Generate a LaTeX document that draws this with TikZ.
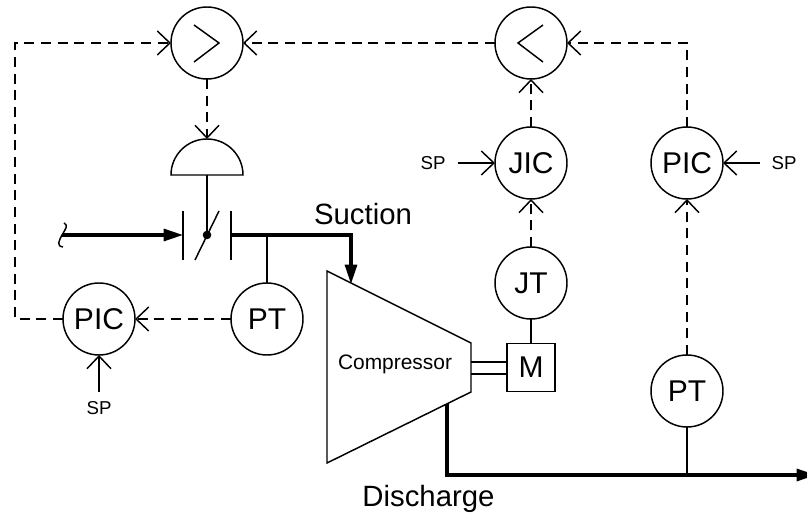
\documentclass[tikz,border=0pt]{standalone}
\usepackage{fontspec}
\setmainfont{Liberation Sans}
\usetikzlibrary{arrows.meta,positioning}

\tikzset{
  instr/.style={draw,circle,line width=1.1pt,minimum size=54pt,inner sep=0pt,outer sep=0pt,font=\fontsize{22.5}{24}\selectfont},
  sigline/.style={line width=1.1pt,dash pattern=on 7.5pt off 5pt},
  barb/.style={-{Straight Barb[length=9.5pt,width=18pt,line width=1.1pt]}},
  thinline/.style={line width=1.1pt},
  procline/.style={line width=2.3pt},
  proctip/.style={-{Triangle[length=14.5pt,width=9pt]}},
  splabel/.style={font=\fontsize{14}{16}\selectfont,inner sep=0pt},
  biglabel/.style={font=\fontsize{22}{24}\selectfont,inner sep=0pt,anchor=base}
}

\begin{document}
\begin{tikzpicture}[x=0.75pt,y=0.75pt]
\useasboundingbox (0,0) rectangle (807,514);
\clip (0,0) rectangle (807,514);

% Instrument bubbles
\foreach \nodename/\x/\y/\ntext in {hisel/207/471/{}, losel/531/471/{}, jic/531/351/JIC, picr/687/351/PIC, jt/531/231/JT, ptr/687/123/PT, ptl/267/195/PT, picl/99/195/PIC}
  \node[instr] (\nodename) at (\x,\y) {\ntext};

% Selector marks
\draw[thinline] (194,489) -- (219,471) -- (194,452);
\draw[thinline] (543,489) -- (518,471) -- (543,452);

% Actuator and valve
\coordinate (dometop) at (207,375);
\coordinate (stem) at (207,279);
\draw[thinline] (171,339) arc (180:0:36) -- cycle;
\draw[thinline] (207,339) -- (stem);
\draw[thinline] (183,303) -- (183,254);
\draw[thinline] (231,303) -- (231,254);
\draw[thinline] (195,254) -- (219,303);
\fill (stem) circle (4.3);

% Compressor and motor
\draw[thinline] (327,243) -- (471,171) -- (471,122) -- (327,51) -- cycle;
\node[font=\fontsize{15.7}{18}\selectfont,inner sep=0pt] (comp) at (395,150) {Compressor};
\node[draw,line width=1.1pt,minimum size=36pt,inner sep=0pt,outer sep=0pt,font=\fontsize{22.5}{24}\selectfont] (motor) at (531,146.5) {M};
\coordinate (shafta) at (471,152);
\coordinate (shaftb) at (471,140);
\draw[thinline] (shafta) -- (shafta -| motor.west);
\draw[thinline] (shaftb) -- (shaftb -| motor.west);
\draw[thinline] (jt.south) -- (jt.south |- motor.north);

% Process lines
\coordinate (inlet) at (62,279);
\coordinate (valvein) at (183,279);
\coordinate (valveout) at (231,279);
\coordinate (bendin) at (351,279);
\coordinate (compin) at (351,230);
\coordinate (compout) at (447,110);
\coordinate (bendout) at (447,39);
\coordinate (outlet) at (816,39);
\draw[procline,proctip] (inlet) -- (valvein);
\draw[procline,proctip] (valveout) -- (bendin) -- (compin);
\draw[procline,proctip] (compout) -- (bendout) -- (outlet);
\draw[thinline] (64,291) .. controls (69,289) and (65,284) .. (62,279) .. controls (59,273) and (56,268) .. (63,267);

% Process taps
\draw[thinline] (ptl.north) -- (ptl.north |- inlet);
\draw[thinline] (ptr.south) -- (ptr.south |- outlet);

% Signal lines
\coordinate (leftbus) at (15,195);
\draw[sigline,barb] (picl.west) -- (leftbus) |- (hisel.west);
\draw[sigline,barb] (losel.west) -- (hisel.east);
\draw[sigline,barb] (hisel.south) -- (dometop);
\draw[sigline,barb] (ptl.west) -- (picl.east);
\draw[sigline,barb] (jic.north) -- (losel.south);
\draw[sigline,barb] (jt.north) -- (jic.south);
\draw[sigline,barb] (picr.north) |- (losel.east);
\draw[sigline,barb] (ptr.north) -- (picr.south);

% Setpoints
\node[splabel] (spjic) at (433,351) {SP};
\node[splabel] (sppicr) at (784,351) {SP};
\node[splabel] (sppicl) at (99,106) {SP};
\draw[thinline,barb] (spjic.east) ++(12,0) -- (jic.west);
\draw[thinline,barb] (sppicr.west) ++(-11,0) -- (picr.east);
\draw[thinline,barb] (sppicl.north) ++(0,9) -- (picl.south);

% Stream labels
\node[biglabel] (suction) at (363,289) {Suction};
\node[biglabel] (discharge) at (428.5,7) {Discharge};
\end{tikzpicture}
\end{document}
